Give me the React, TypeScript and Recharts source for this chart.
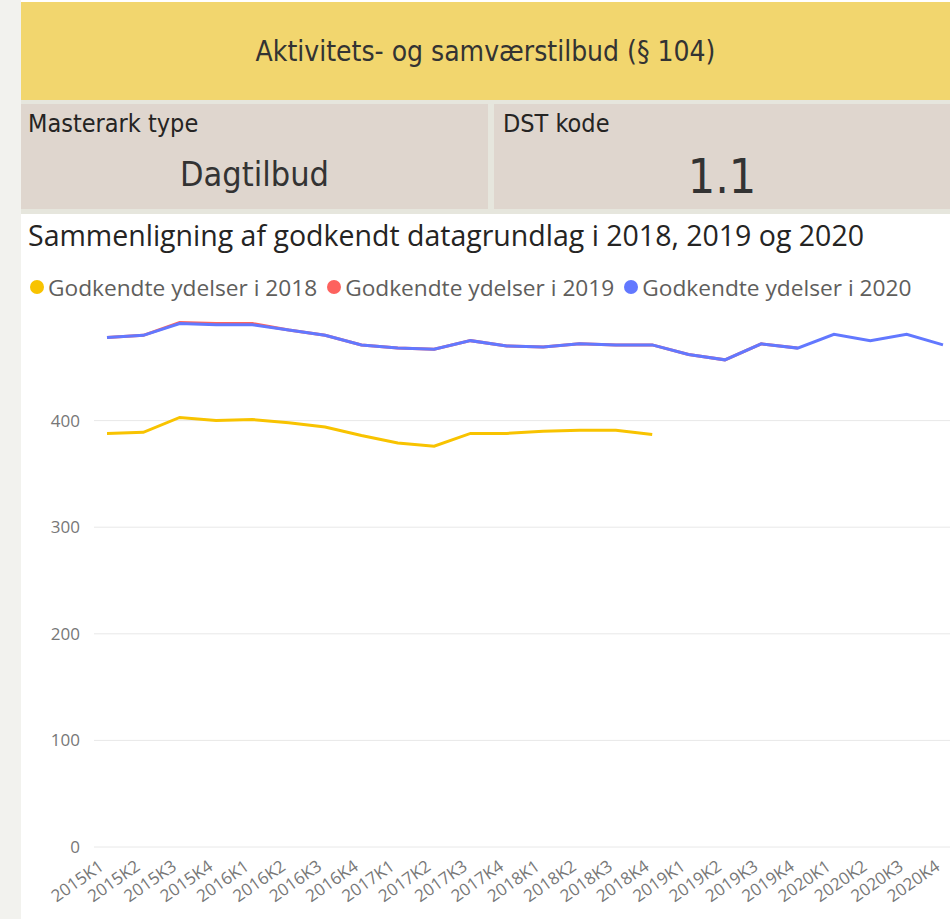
import React from 'react';
import { LineChart, Line, XAxis, YAxis, CartesianGrid, Legend } from 'recharts';

const quarters = [
  '2015K1', '2015K2', '2015K3', '2015K4',
  '2016K1', '2016K2', '2016K3', '2016K4',
  '2017K1', '2017K2', '2017K3', '2017K4',
  '2018K1', '2018K2', '2018K3', '2018K4',
  '2019K1', '2019K2', '2019K3', '2019K4',
  '2020K1', '2020K2', '2020K3', '2020K4',
];

// values per quarter, null where the series stops
const ydelser2018 = [
  388, 389, 403, 400, 401, 398, 394, 386, 379, 376, 388, 388,
  390, 391, 391, 387, null, null, null, null, null, null, null, null,
];
const ydelser2019 = [
  478, 480, 492, 491, 491, 485, 480, 471, 468, 467, 475, 470,
  469, 472, 471, 471, 462, 457, 472, 468, null, null, null, null,
];
const ydelser2020 = [
  478, 480, 491, 490, 490, 485, 480, 471, 468, 467, 475, 470,
  469, 472, 471, 471, 462, 457, 472, 468, 481, 475, 481, 471,
];

const yTicks = [0, 100, 200, 300, 400];

const series = [
  { key: 'Godkendte ydelser i 2018', color: '#F8C300' },
  { key: 'Godkendte ydelser i 2019', color: '#FD625E' },
  { key: 'Godkendte ydelser i 2020', color: '#6278FF' },
];

const data = quarters.map((q, i) => ({
  q,
  'Godkendte ydelser i 2018': ydelser2018[i],
  'Godkendte ydelser i 2019': ydelser2019[i],
  'Godkendte ydelser i 2020': ydelser2020[i],
}));

const font = '"Open Sans", "Noto Sans", sans-serif';
const cardFont = '"DejaVu Sans Condensed", Roboto, sans-serif';

function LegendRow() {
  return (
    <div style={{ display: 'flex', fontFamily: font, fontSize: 22.7, color: '#605E5C', height: 30, alignItems: 'center', whiteSpace: 'nowrap' }}>
      {series.map((s) => (
        <div key={s.key} style={{ display: 'flex', alignItems: 'center', marginRight: 10 }}>
          <span style={{ width: 14, height: 14, borderRadius: 7, background: s.color, display: 'inline-block', marginRight: 4 }} />
          <span>{s.key}</span>
        </div>
      ))}
    </div>
  );
}

export default function App() {
  return (
    <div style={{ position: 'absolute', left: 0, top: 0, width: 950, height: 919, background: '#F2F2EE', overflow: 'hidden' }}>
      <div style={{ position: 'absolute', left: 21, top: 0, width: 929, height: 919, background: '#fff' }} />
      <div style={{ position: 'absolute', left: 21, top: 100, width: 929, height: 114, background: '#E6E6DD' }} />
      <div
        style={{
          position: 'absolute', left: 21, top: 2, width: 929, height: 98, background: '#F2D66E',
          display: 'flex', alignItems: 'center', justifyContent: 'center',
          fontFamily: cardFont, fontSize: 28, color: '#333',
        }}
      >
        Aktivitets- og samværstilbud (§ 104)
      </div>
      <div style={{ position: 'absolute', left: 21, top: 104, width: 467, height: 105, background: '#DFD6CE', fontFamily: cardFont, color: '#252423' }}>
        <div style={{ position: 'absolute', left: 7, top: 5, fontSize: 25 }}>Masterark type</div>
        <div style={{ position: 'absolute', left: 0, right: 0, top: 50, textAlign: 'center', fontSize: 34, color: '#333' }}>Dagtilbud</div>
      </div>
      <div style={{ position: 'absolute', left: 494, top: 104, width: 456, height: 105, background: '#DFD6CE', fontFamily: cardFont, color: '#252423' }}>
        <div style={{ position: 'absolute', left: 9, top: 5, fontSize: 25 }}>DST kode</div>
        <div style={{ position: 'absolute', left: 0, right: 0, top: 44, textAlign: 'center', fontSize: 48, color: '#333' }}>1.1</div>
      </div>
      <div style={{ position: 'absolute', left: 28, top: 216, fontFamily: font, fontSize: 28.5, color: '#252423', whiteSpace: 'nowrap' }}>
        Sammenligning af godkendt datagrundlag i 2018, 2019 og 2020
      </div>
      <div style={{ position: 'absolute', left: 21, top: 262 }}>
        <LineChart width={929} height={657} data={data} margin={{ top: 22, right: 0, bottom: 0, left: 0 }}>
          <Legend verticalAlign="top" align="left" content={() => <LegendRow />} wrapperStyle={{ left: 9, top: 10 }} />
          <CartesianGrid vertical={false} stroke="#E8E8E8" horizontalValues={yTicks} />
          <XAxis
            dataKey="q"
            interval={0}
            angle={-35}
            textAnchor="end"
            height={72}
            tickLine={false}
            axisLine={false}
            tickMargin={6}
            padding={{ left: 13, right: 7 }}
            tick={{ fontSize: 17, fill: '#777', fontFamily: font, dx: -9 }}
          />
          <YAxis
            domain={[0, 500]}
            ticks={yTicks}
            width={73}
            tickLine={false}
            axisLine={false}
            tickMargin={8}
            tick={{ fontSize: 17, fill: '#777', fontFamily: font }}
          />
          {series.map((s) => (
            <Line
              key={s.key}
              dataKey={s.key}
              stroke={s.color}
              strokeWidth={3}
              dot={false}
              isAnimationActive={false}
            />
          ))}
        </LineChart>
      </div>
    </div>
  );
}
